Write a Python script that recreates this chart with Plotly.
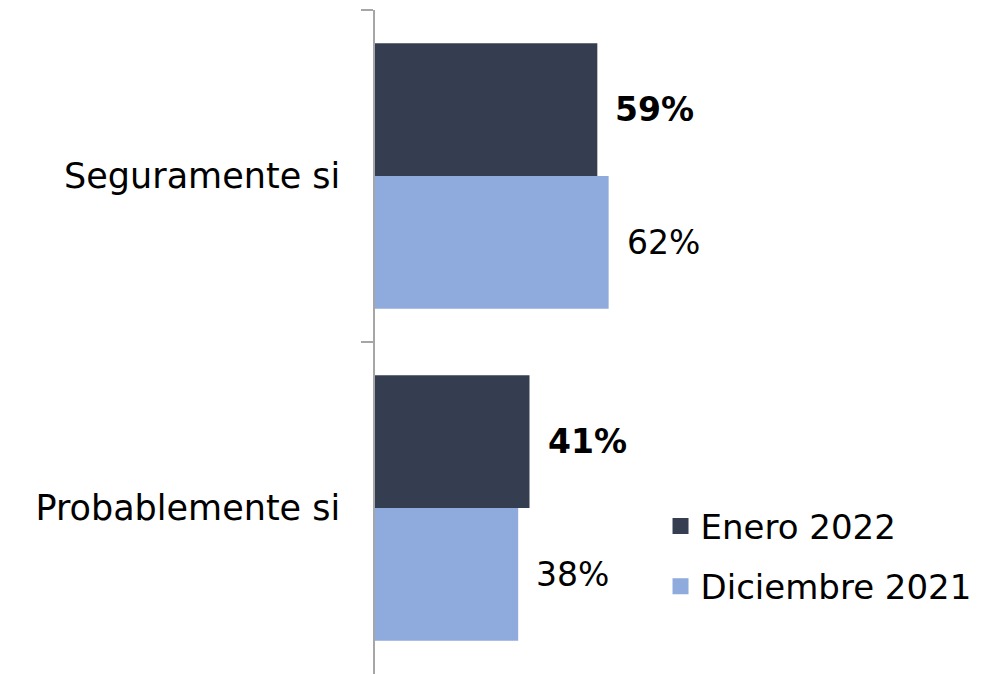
import plotly.graph_objects as go

categories = ["Seguramente si", "Probablemente si"]
enero_2022 = [59, 41]
diciembre_2021 = [62, 38]
series_names = ["Enero 2022", "Diciembre 2021"]
colors = ["#343E50", "#8FAADC"]

FONT = "DejaVu Sans"

fig = go.Figure()
for name, vals, col in zip(series_names, [enero_2022, diciembre_2021], colors):
    fig.add_trace(go.Bar(
        y=categories, x=vals, name=name, orientation="h",
        marker=dict(color=col, line=dict(width=0)),
        legendgroup=name, showlegend=False,
    ))
    # legend entry with a larger square swatch
    fig.add_trace(go.Scatter(
        x=[None], y=[None], mode="markers", name=name,
        marker=dict(symbol="square", size=21, color=col),
        legendgroup=name, showlegend=True,
    ))

annotations = []
offsets = [-0.2, 0.2]
bold = [True, False]
for si, vals in enumerate([enero_2022, diciembre_2021]):
    for ci, v in enumerate(vals):
        txt = f"{v}%"
        if bold[si]:
            txt = f"<b>{txt}</b>"
        annotations.append(dict(
            x=v, y=ci + offsets[si], xref="x", yref="y",
            text=txt, showarrow=False, xanchor="left", yanchor="middle",
            xshift=16, font=dict(family=FONT, size=33, color="#000000"),
        ))

fig.update_layout(
    width=996, height=674,
    margin=dict(l=367, r=11, t=2, b=8),
    paper_bgcolor="white", plot_bgcolor="white",
    barmode="group", bargap=0.2, bargroupgap=0,
    font=dict(family=FONT, size=34, color="#000000"),
    showlegend=True,
    legend=dict(
        x=0.462, y=0.266, xanchor="left", yanchor="top",
        font=dict(family=FONT, size=34, color="#000000"),
        traceorder="grouped", tracegroupgap=13, itemsizing="trace",
        bgcolor="rgba(0,0,0,0)",
    ),
    annotations=annotations,
)
fig.update_xaxes(range=[0, 164], visible=False, showgrid=False, zeroline=False)
fig.update_yaxes(
    type="category", autorange="reversed",
    showline=True, linecolor="#A6A6A6", linewidth=1.5,
    ticks="outside", ticklen=12, tickcolor="#A6A6A6", tickwidth=1.5,
    tickson="boundaries", showgrid=False, zeroline=False,
    ticklabelstandoff=26,
    tickfont=dict(family=FONT, size=35, color="#000000"),
)

fig.write_html("out.html")
